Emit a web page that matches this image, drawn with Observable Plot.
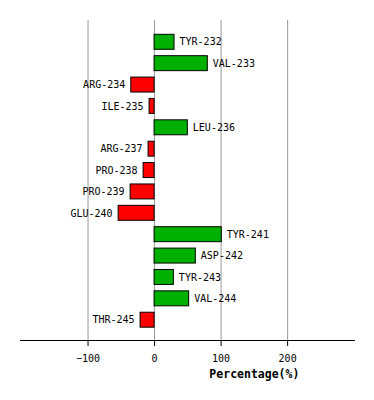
<!DOCTYPE html>
<html>
<head>
<meta charset="utf-8">
<script src="https://cdn.jsdelivr.net/npm/d3@7"></script>
<script src="https://cdn.jsdelivr.net/npm/@observablehq/plot@0.6"></script>
<style>
  html, body { margin: 0; padding: 0; background: #fff; }
  #chart svg { display: block; }
</style>
</head>
<body>
<div id="chart"></div>
<script>
const residues = ["TYR-232","VAL-233","ARG-234","ILE-235","LEU-236","ARG-237","PRO-238","PRO-239","GLU-240","TYR-241","ASP-242","TYR-243","VAL-244","THR-245"];
const percentages = [30, 80, -35, -7.5, 50, -9, -16.5, -36, -54, 101, 62, 29, 52, -21];
const xTicks = [-100, 0, 100, 200];
const xLabel = "Percentage(%)";

const data = residues.map((r, i) => ({residue: r, value: percentages[i]}));
const pos = data.filter(d => d.value >= 0);
const neg = data.filter(d => d.value < 0);
const font = "DejaVu Sans Mono";

const chart = Plot.plot({
  width: 374,
  height: 400,
  marginTop: 20,
  marginBottom: 60,
  marginLeft: 20,
  marginRight: 20,
  style: {fontFamily: font, fontSize: "10px", background: "#fff", color: "#000"},
  x: {domain: [-201.5, 300.5], ticks: xTicks},
  y: {domain: residues, range: [27.9, 333.6], padding: 0.3, round: false, axis: null},
  marks: [
    Plot.gridX(xTicks, {stroke: "#999", strokeOpacity: 1, strokeWidth: 1}),
    Plot.frame({anchor: "bottom", stroke: "#000"}),
    Plot.axisX(xTicks, {tickSize: 6, tickPadding: 8, label: null, fontSize: 10, fontFamily: font, stroke: "#000", color: "#000"}),
    Plot.barX(data, {x: "value", y: "residue", fill: d => d.value >= 0 ? "#00b000" : "#ff0000", stroke: "#000", strokeWidth: 1}),
    Plot.text(pos, {x: "value", y: "residue", text: "residue", textAnchor: "start", dx: 5, fontSize: 10, fontFamily: font, fill: "#000"}),
    Plot.text(neg, {x: "value", y: "residue", text: "residue", textAnchor: "end", dx: -6, fontSize: 10, fontFamily: font, fill: "#000"}),
    Plot.text([xLabel], {x: [150], frameAnchor: "bottom", dy: 37, text: d => d, fontSize: 11.5, fontWeight: "bold", fontFamily: font, fill: "#000"})
  ]
});
document.getElementById("chart").appendChild(chart);
</script>
</body>
</html>
